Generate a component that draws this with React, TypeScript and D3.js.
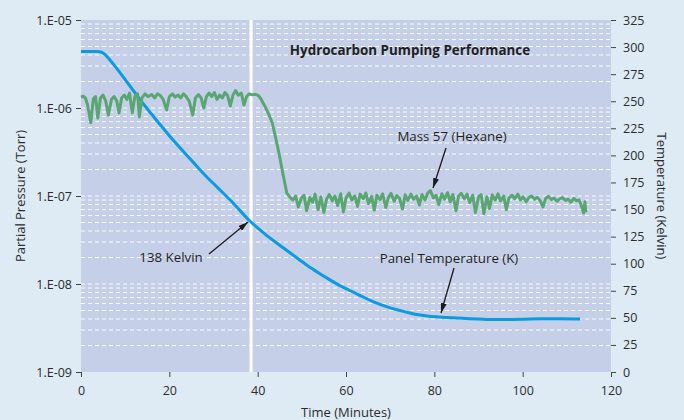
import {useEffect, useRef} from "react";
import * as d3 from "d3";

// time axis (minutes) and tick labels
const timeTicks = [0, 20, 40, 60, 80, 100, 120];
const pressureTicks = [1e-5, 1e-6, 1e-7, 1e-8, 1e-9];
const pressureLabels = ["1.E-05", "1.E-06", "1.E-07", "1.E-08", "1.E-09"];
const tempTicks = [0, 25, 50, 75, 100, 125, 150, 175, 200, 225, 250, 275, 300, 325];

// Panel temperature (Kelvin) vs time
const tempTime = [0, 2, 4, 5, 6, 8, 10, 12, 14, 16, 18, 20, 22, 24, 26, 28, 30, 32, 34, 36, 38, 40, 42, 44, 46, 48, 50, 52, 54, 56, 58, 60, 62, 64, 66, 68, 70, 72, 74, 76, 78, 80, 84, 88, 92, 96, 100, 104, 108, 113];
const tempKelvin = [296, 296, 296, 295, 291, 281, 270, 259, 248, 238, 228, 218, 209, 200, 191, 182, 174, 166, 158, 149, 140, 133, 126, 120, 114, 108, 102, 96, 91, 86, 81, 77, 73, 69, 65, 62, 59, 57, 55, 53, 52, 51, 50, 49, 48.5, 48.5, 48.5, 49.5, 49, 49];

// Mass 57 (Hexane) partial pressure (Torr) vs time
const massTime = [
	0, 0.5, 1, 1.5, 2.2, 2.8, 3.3, 3.8, 4.4, 5, 5.6, 6.2, 6.9, 7.5, 8.1, 8.6, 9.2, 9.8, 10.4, 11, 11.6, 12.2, 12.8, 13.2, 13.8,
	14.5, 15.2, 16, 16.7, 17.3, 18, 18.6, 19.4, 20, 20.7, 21.3, 22, 22.6, 23.2, 23.8, 24.5, 25.3, 25.9, 26.6, 27.2, 27.8, 28.4,
	29, 29.6, 30.2, 30.8, 31.4, 32, 32.6, 33.2, 33.8, 34.4, 35, 35.6, 36.3, 36.9, 37.5, 38.1, 38.8, 39.5, 40.2, 40.8, 41.7,
	42.5, 43.3, 44.2, 45, 45.8, 46.6, 47.3, 48, 48.6, 49.2, 49.9, 50.5, 51.1, 51.8, 52.4, 53, 53.7, 54.3, 55, 55.6, 56.2,
	56.9, 57.5, 58.1, 58.8, 59.4, 60, 60.7, 61.3, 62, 62.6, 63.2, 63.9, 64.5, 65.1, 65.8, 66.4, 67, 67.7, 68.3, 69, 69.6,
	70.2, 70.9, 71.5, 72.1, 72.8, 73.4, 74, 74.7, 75.3, 76, 76.6, 77.2, 77.9, 78.5, 79.1, 79.8, 80.4, 81, 81.7, 82.3, 83,
	83.6, 84.2, 84.9, 85.5, 86.1, 86.8, 87.4, 88, 88.7, 89.3, 90, 90.6, 91.2, 91.9, 92.5, 93.1, 93.8, 94.4, 95, 95.7, 96.3,
	96.9, 97.6, 98.2, 98.9, 99.5, 100.1, 100.8, 101.4, 102, 102.7, 103.3, 104, 104.6, 105.2, 105.9, 106.5, 107.1, 107.8,
	108.4, 109, 109.7, 110.3, 110.9, 111.6, 112.2, 112.8, 113.5, 113.8, 114.1, 114.3,
];
const massTorr = [
	1.33e-6, 1.36e-6, 1.3e-6, 1.08e-6, 6.8e-7, 1.27e-6, 1.35e-6, 7.7e-7, 1.3e-6, 1.4e-6, 1.2e-6, 8.3e-7, 1.25e-6, 1.35e-6,
	1.2e-6, 8.8e-7, 1.3e-6, 1.4e-6, 1.25e-6, 1.48e-6, 8.8e-7, 1.35e-6, 1.45e-6, 7.9e-7, 1.3e-6,
	1.45e-6, 1.35e-6, 1.42e-6, 1.3e-6, 1.45e-6, 1.38e-6, 1.25e-6, 9.5e-7, 1.35e-6, 1.45e-6, 1.33e-6, 1.4e-6, 1.3e-6,
	1.45e-6, 1.35e-6, 1.2e-6, 8.3e-7, 1.3e-6, 1.42e-6, 1.3e-6, 1.0e-6, 1.35e-6,
	1.48e-6, 1.35e-6, 1.5e-6, 1.25e-6, 1.4e-6, 1.3e-6, 1.5e-6, 1.38e-6, 1.05e-6, 1.4e-6, 1.58e-6, 1.4e-6, 1.48e-6, 1.08e-6,
	1.35e-6, 1.45e-6, 1.41e-6, 1.43e-6, 1.38e-6, 1.25e-6, 1.03e-6,
	8.5e-7, 6.8e-7, 4.3e-7, 2.77e-7, 1.7e-7, 1.08e-7, 9.7e-8, 9.0e-8, 1.0e-7, 7.5e-8, 9.5e-8, 1.02e-7, 6.8e-8, 9.6e-8,
	8.5e-8, 1.05e-7, 7.0e-8, 9.8e-8, 6.5e-8, 9.2e-8, 1.04e-7,
	8.8e-8, 1.0e-7, 7.8e-8, 1.06e-7, 6.6e-8, 9.5e-8, 1.08e-7, 9.0e-8, 1.0e-7, 7.6e-8, 1.05e-7, 9.3e-8, 1.08e-7, 8.2e-8,
	9.9e-8, 6.9e-8, 1.02e-7, 9.1e-8, 1.06e-7, 7.4e-8, 9.6e-8,
	1.07e-7, 8.7e-8, 1.01e-7, 9.4e-8, 7.1e-8, 1.03e-7, 8.9e-8, 1.05e-7, 9.2e-8, 1.0e-7, 7.9e-8, 1.04e-7, 9.0e-8, 1.08e-7,
	1.15e-7, 9.5e-8, 1.02e-7, 8.0e-8, 1.06e-7, 9.2e-8, 1.09e-7,
	8.6e-8, 1.04e-7, 6.8e-8, 1.0e-7, 1.07e-7, 9.3e-8, 1.05e-7, 8.4e-8, 1.02e-7, 6.5e-8, 9.7e-8, 1.04e-7, 6.3e-8, 9.8e-8,
	7.2e-8, 1.03e-7, 9.0e-8, 1.06e-7, 8.8e-8, 1.0e-7, 7.0e-8,
	9.5e-8, 1.02e-7, 9.3e-8, 1.05e-7, 9.0e-8, 9.8e-8, 8.6e-8, 9.6e-8, 1.0e-7, 9.2e-8, 9.7e-8, 8.8e-8, 7.5e-8, 9.4e-8,
	9.9e-8, 9.1e-8, 9.5e-8, 8.7e-8,
	9.3e-8, 9.6e-8, 8.9e-8, 9.2e-8, 8.5e-8, 9.4e-8, 8.8e-8, 9.0e-8, 7.2e-8, 6.4e-8, 8.6e-8, 6.5e-8,
];

// cold panel marker time (138 Kelvin)
const markerTime = 38.5;

const FONT = "'Open Sans', sans-serif";

const App = () => {
	const svgRef = useRef(null);

	useEffect(() => {
		document.body.style.margin = "0";
		const width = 684;
		const height = 420;
		const left = 81, right = 611, top = 20, bottom = 372;

		const x = d3.scaleLinear().domain([0, 120]).range([left, right]);
		const yP = d3.scaleLog().domain([1e-9, 1e-5]).range([bottom, top]);
		const yT = d3.scaleLinear().domain([0, 325]).range([bottom, top]);

		const svg = d3.select(svgRef.current)
			.attr("width", width)
			.attr("height", height)
			.attr("viewBox", [0, 0, width, height]);
		svg.selectAll("*").remove();

		svg.append("rect").attr("width", width).attr("height", height).attr("fill", "#deebf5");

		const defs = svg.append("defs");
		defs.append("marker")
			.attr("id", "arrow")
			.attr("viewBox", "0 0 10 6")
			.attr("refX", 10)
			.attr("refY", 3)
			.attr("markerWidth", 10)
			.attr("markerHeight", 6)
			.attr("markerUnits", "userSpaceOnUse")
			.attr("orient", "auto")
			.append("path")
			.attr("d", "M0,0L10,3L0,6Z")
			.attr("fill", "#1a1a1a");

		// plot area
		svg.append("rect")
			.attr("x", left).attr("y", top)
			.attr("width", right - left).attr("height", bottom - top)
			.attr("fill", "#c5cfe8");

		// log minor grid
		const gridVals: number[] = [];
		for (let e = -9; e < -5; e++) for (let k = 1; k <= 9; k++) gridVals.push(k * Math.pow(10, e));
		svg.append("g")
			.selectAll("line")
			.data(gridVals.filter((v) => v > 1e-9))
			.join("line")
			.attr("x1", left).attr("x2", right)
			.attr("y1", (d) => yP(d)).attr("y2", (d) => yP(d))
			.attr("stroke", "#ffffff")
			.attr("stroke-opacity", 0.9)
			.attr("stroke-width", 1)
			.attr("stroke-dasharray", "4,3");

		// 138 K marker line
		svg.append("line")
			.attr("x1", x(markerTime)).attr("x2", x(markerTime))
			.attr("y1", top).attr("y2", bottom)
			.attr("stroke", "#ffffff")
			.attr("stroke-width", 3);

		// axes
		const axisStyle = (g) => {
			g.select(".domain").remove();
			g.selectAll(".tick line").attr("stroke", "#444");
			g.selectAll("text").attr("font-family", FONT).attr("font-size", 12.5).attr("fill", "#2b2b2b");
		};

		svg.append("g")
			.attr("transform", `translate(${left},0)`)
			.call(d3.axisLeft(yP).tickValues(pressureTicks).tickFormat((d, i) => pressureLabels[i]).tickSize(5).tickPadding(4))
			.call(axisStyle);

		svg.append("g")
			.attr("transform", `translate(${right},0)`)
			.call(d3.axisRight(yT).tickValues(tempTicks).tickSize(5).tickPadding(7))
			.call(axisStyle);

		svg.append("g")
			.attr("transform", `translate(0,${bottom})`)
			.call(d3.axisBottom(x).tickValues(timeTicks).tickSize(5).tickPadding(9))
			.call(axisStyle);

		// series
		const tempLine = d3.line<number>()
			.x((d, i) => x(tempTime[i]))
			.y((d) => yT(d))
			.curve(d3.curveBasis);
		svg.append("path")
			.attr("d", tempLine(tempKelvin))
			.attr("fill", "none")
			.attr("stroke", "#0b9be0")
			.attr("stroke-width", 3);

		const massLine = d3.line<number>()
			.x((d, i) => x(massTime[i]))
			.y((d) => yP(d));
		svg.append("path")
			.attr("d", massLine(massTorr))
			.attr("fill", "none")
			.attr("stroke", "#5aa672")
			.attr("stroke-width", 3)
			.attr("stroke-linejoin", "round");

		// axis titles
		svg.append("text")
			.attr("transform", `translate(25,196) rotate(-90)`)
			.attr("text-anchor", "middle")
			.attr("font-family", FONT).attr("font-size", 13).attr("fill", "#2b2b2b")
			.text("Partial Pressure (Torr)");
		svg.append("text")
			.attr("transform", `translate(657,196) rotate(90)`)
			.attr("text-anchor", "middle")
			.attr("font-family", FONT).attr("font-size", 13).attr("fill", "#2b2b2b")
			.text("Temperature (Kelvin)");
		svg.append("text")
			.attr("x", 346).attr("y", 417)
			.attr("text-anchor", "middle")
			.attr("font-family", FONT).attr("font-size", 13).attr("fill", "#2b2b2b")
			.text("Time (Minutes)");

		// title
		svg.append("text")
			.attr("x", 410).attr("y", 55)
			.attr("text-anchor", "middle")
			.attr("font-family", FONT).attr("font-size", 13.4).attr("font-weight", "bold").attr("fill", "#1f1f1f")
			.text("Hydrocarbon Pumping Performance");

		// annotations
		const notes = [
			{text: "Mass 57 (Hexane)", tx: 452, ty: 141, x1: 446, y1: 148, x2: 433, y2: 188},
			{text: "138 Kelvin", tx: 171, ty: 262, x1: 209, y1: 254, x2: 248, y2: 222},
			{text: "Panel Temperature (K)", tx: 449, ty: 263, x1: 454, y1: 268, x2: 441, y2: 313},
		];
		const ann = svg.append("g");
		ann.selectAll("text")
			.data(notes)
			.join("text")
			.attr("x", (d) => d.tx).attr("y", (d) => d.ty)
			.attr("text-anchor", "middle")
			.attr("font-family", FONT).attr("font-size", 13.3).attr("fill", "#1f1f1f")
			.text((d) => d.text);
		ann.selectAll("line")
			.data(notes)
			.join("line")
			.attr("x1", (d) => d.x1).attr("y1", (d) => d.y1)
			.attr("x2", (d) => d.x2).attr("y2", (d) => d.y2)
			.attr("stroke", "#1a1a1a")
			.attr("stroke-width", 1.3)
			.attr("marker-end", "url(#arrow)");
	}, []);

	return <svg ref={svgRef} style={{display: "block"}}></svg>;
};

export default App;
